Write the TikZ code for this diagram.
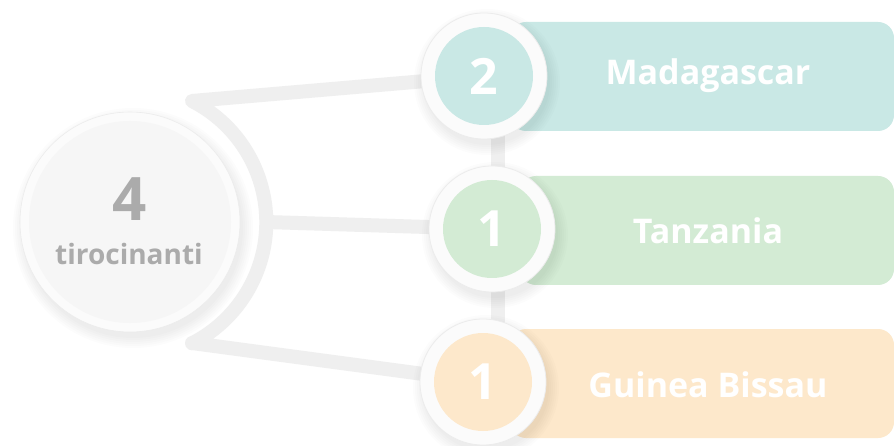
\documentclass[tikz,border=0pt]{standalone}
\usepackage{fontspec}
\setmainfont{Open Sans}
\definecolor{band}{HTML}{EFEFEF}
\definecolor{teal}{HTML}{C9E8E5}
\definecolor{greenl}{HTML}{D3EBD4}
\definecolor{orangel}{HTML}{FDE8CB}
\definecolor{ring}{HTML}{FBFBFB}
\definecolor{ringedge}{HTML}{ECECEC}
\definecolor{bigfill}{HTML}{F6F6F6}
\definecolor{greytxt}{HTML}{ABABAB}
\tikzset{
  bandline/.style={draw=band, line width=14pt, line join=round},
  countrybox/.style={rounded corners=16pt},
  countrytxt/.style={text=white, font=\fontsize{34}{34}\selectfont\bfseries},
  digit/.style={text=white, font=\fontsize{50}{50}\selectfont\bfseries},
  smallring/.style={circle, fill=ring, draw=ringedge, line width=0.8pt, minimum size=126pt, inner sep=0pt},
}
\newcommand{\fakeshadow}[2]{%
  \foreach \k in {0,2,...,10}{\fill[black, opacity=0.012] (#1)++(3,6) circle[radius=#2+\k];}}
\begin{document}
\begin{tikzpicture}[x=1pt,y=-1pt]
\useasboundingbox (0,0) rectangle (894,446);
\fill[white] (0,0) rectangle (894,446);
% coordinates
\coordinate (a1) at (192,101);
\coordinate (a2) at (192,343);
\coordinate (am) at (266,222);
\coordinate (vx) at (498,0);
\coordinate (p2) at (484,76);
\coordinate (p1) at (492,229);
\coordinate (p3) at (483,382);
% connectors
\draw[bandline] (p2) -- (a1) arc[start angle=-63, end angle=63, radius=136] -- (a2) -- (p3);
\draw[bandline] (am) -- (p1);
\draw[bandline] (p2 -| vx) -- (p3 -| vx);
% boxes
\fill[teal, countrybox] (510,22) rectangle (894,131);
\fill[greenl, countrybox] (520,176) rectangle (894,285);
\fill[orangel, countrybox] (510,329) rectangle (894,438);
\node[countrytxt] (t2) at (708,76) {Madagascar};
\node[countrytxt] (t1) at (708,231) {Tanzania};
\node[countrytxt] (t3) at (708,385) {Guinea Bissau};
% big circle
\fakeshadow{130,222}{110}
\node[circle, fill=ring, draw=ringedge, line width=0.6pt, minimum size=220pt, inner sep=0pt] (c0) at (130,222) {};
\fill[bigfill] (c0.center) circle[radius=101];
\node[text=greytxt, font=\fontsize{60}{60}\selectfont\bfseries] (n0) at (130,199) {4};
\node[text=greytxt, font=\fontsize{28}{28}\selectfont\bfseries] (l0) at (129,254) {tirocinanti};
% small circles
\fakeshadow{p2}{63}
\node[smallring] (c2) at (p2) {};
\fill[teal] (c2.center) circle[radius=49];
\node[digit] at (c2.center) {2};
\fakeshadow{p1}{63}
\node[smallring] (c1) at (p1) {};
\fill[greenl] (c1.center) circle[radius=49];
\node[digit] at (c1.center) {1};
\fakeshadow{p3}{63}
\node[smallring] (c3) at (p3) {};
\fill[orangel] (c3.center) circle[radius=49];
\node[digit] at (c3.center) {1};
\end{tikzpicture}
\end{document}
